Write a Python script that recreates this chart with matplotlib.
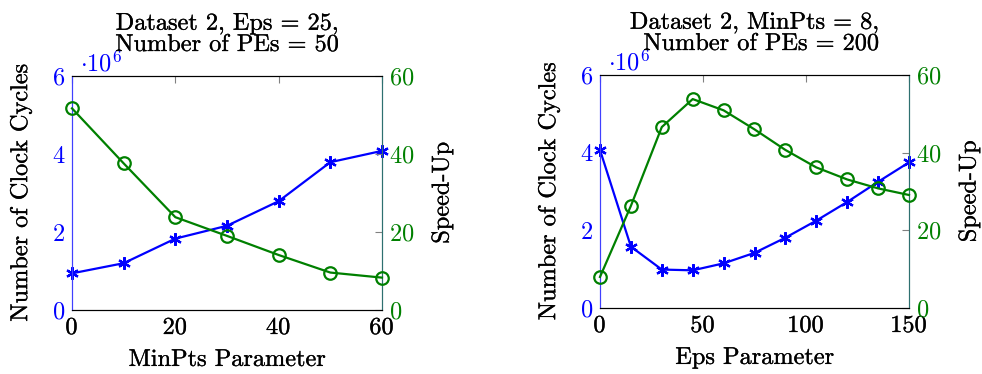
import numpy as np
import matplotlib
matplotlib.use("Agg")
import matplotlib.pyplot as plt
import matplotlib.patheffects as pe

plt.rcParams["font.family"] = ["cmr10", "DejaVu Serif"]
plt.rcParams["mathtext.fontset"] = "cm"
plt.rcParams["axes.formatter.use_mathtext"] = True
plt.rcParams["axes.unicode_minus"] = False

# left panel: MinPts sweep
minpts = [0, 10, 20, 30, 40, 50, 60]
cycles_minpts = [0.94, 1.20, 1.83, 2.16, 2.79, 3.79, 4.08]   # x 10^6
speedup_minpts = [51.7, 37.6, 23.8, 19.0, 14.1, 9.6, 8.3]

# right panel: Eps sweep
eps = [0, 15, 30, 45, 60, 75, 90, 105, 120, 135, 150]
cycles_eps = [4.07, 1.58, 0.99, 0.97, 1.15, 1.42, 1.81, 2.25, 2.73, 3.25, 3.75]
speedup_eps = [8.0, 26.3, 46.6, 53.8, 50.9, 46.0, 40.7, 36.2, 33.1, 30.8, 29.1]

titles = ["Dataset 2, Eps = 25,\nNumber of PEs = 50",
          "Dataset 2, MinPts = 8,\nNumber of PEs = 200"]
xlabels = ["MinPts Parameter", "Eps Parameter"]

BLUE = "#0000ff"
GREEN = "#008000"
FS = 17.5
# a bit heavier strokes, like the pdf-rendered Computer Modern
thick = [pe.withStroke(linewidth=0.2, foreground="black")]

fig = plt.figure(figsize=(9.82, 3.74), dpi=100)

panels = [
    ([72, 76, 382, 310], minpts, cycles_minpts, speedup_minpts, [0, 20, 40, 60], 60),
    ([600, 75, 909, 308], eps, cycles_eps, speedup_eps, [0, 50, 100, 150], 150),
]

W, H = 982, 374
for i, (box, x, cyc, spd, xt, xmax) in enumerate(panels):
    l, t, r, b = box
    ax = fig.add_axes([l / W, 1 - b / H, (r - l) / W, (b - t) / H])
    ax2 = ax.twinx()

    ax.plot(x, cyc, color=BLUE, lw=1.6, marker=(6, 2, 0), ms=9, mew=1.6, clip_on=False, zorder=3)
    ax2.plot(x, spd, color=GREEN, lw=1.6, marker="o", ms=9, mfc="none", mew=1.6, clip_on=False, zorder=3)

    ax.set_xlim(0, xmax)
    ax.set_ylim(0, 6)
    ax2.set_ylim(0, 60)
    ax.set_xticks(xt)
    ax.set_yticks([0, 2, 4, 6])
    ax2.set_yticks([0, 20, 40, 60])

    ax.tick_params(axis="x", direction="in", top=True, bottom=False, length=5, color="0.5",
                   labelsize=FS, pad=5)
    ax.tick_params(axis="y", direction="in", length=0, labelcolor=BLUE, labelsize=FS, pad=5)
    ax2.tick_params(axis="y", direction="in", length=5, color="0.5", labelcolor=GREEN,
                    labelsize=FS, pad=5)

    for a in (ax, ax2):
        a.spines["left"].set_color("#4040ff")
        a.spines["right"].set_color("#2e7070")
        a.spines["top"].set_color("black")
        a.spines["bottom"].set_color("black")

    ax.set_xlabel(xlabels[i], fontsize=FS, labelpad=7)
    ax.set_ylabel("Number of Clock Cycles", fontsize=FS, labelpad=14)
    ax2.set_ylabel("Speed-Up", fontsize=FS, labelpad=12)
    ax.set_title(titles[i], fontsize=FS, multialignment="right", pad=18, linespacing=0.95)
    ax.text(0.025, 1.0, r"$\cdot 10^6$", transform=ax.transAxes, color=BLUE,
            fontsize=FS, ha="left", va="bottom")

    for txt in [ax.title, ax.xaxis.label, ax.yaxis.label, ax2.yaxis.label] + ax.get_xticklabels():
        txt.set_path_effects(thick)

fig.savefig("out.png", dpi=100)
